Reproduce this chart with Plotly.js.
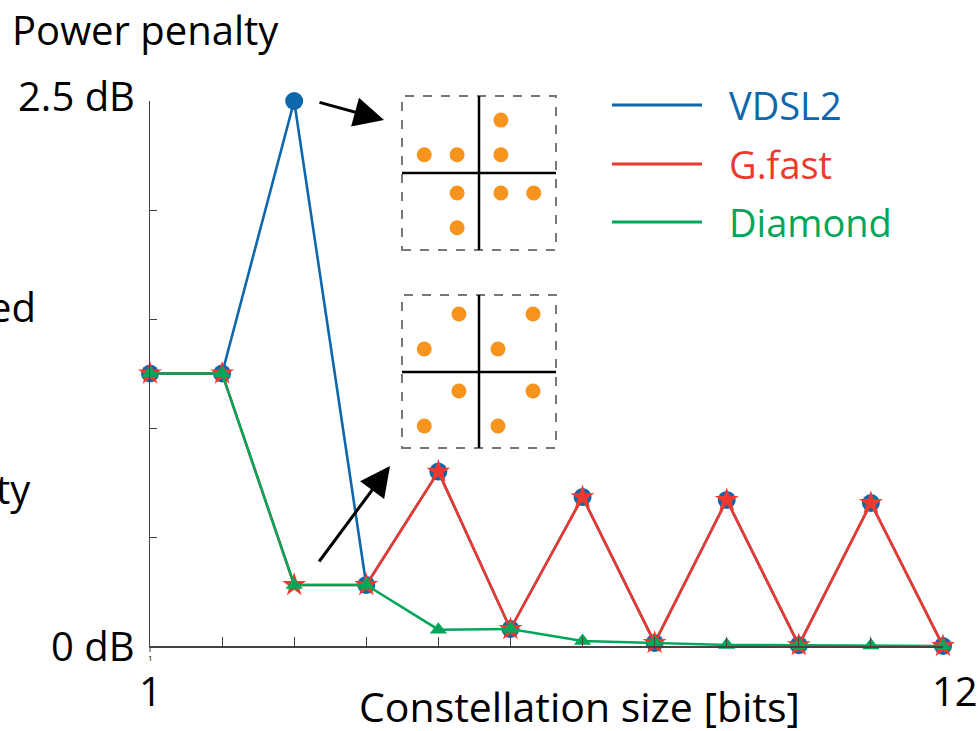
<!DOCTYPE html>
<html>
<head>
<meta charset="utf-8">
<script src="https://cdn.plot.ly/plotly-3.0.1.min.js"></script>
<style>html,body{margin:0;padding:0;background:#fff;}#chart{width:978px;height:731px;}</style>
</head>
<body>
<div id="chart"></div>
<script>
// ---- data ----
const bits = [1, 2, 3, 4, 5, 6, 7, 8, 9, 10, 11, 12];
const vdsl2 = [1.25, 1.25, 2.5, 0.28, 0.80, 0.078, 0.683, 0.014, 0.67, 0.004, 0.656, 0];
const gfast = [1.25, 1.25, 0.28, 0.28, 0.80, 0.078, 0.683, 0.014, 0.67, 0.004, 0.656, 0];
const diamond = [1.25, 1.25, 0.28, 0.28, 0.075, 0.078, 0.023, 0.014, 0.005, 0.004, 0.002, 0];
const seriesNames = ["VDSL2", "G.fast", "Diamond"];
const seriesColors = ["#0F67AB", "#EE3A2E", "#00A65A"];
const yTickVals = [0, 0.5, 1, 1.5, 2, 2.5];
const yTickLabels = ["0 dB", "2.5 dB"];
const xTickLabels = ["1", "12"];
// inset constellations (in-phase, quadrature)
const constA_I = [0.6, -1.5, -0.6, 0.6, -0.6, 0.6, 1.5, -0.6];
const constA_Q = [1.45, 0.5, 0.5, 0.5, -0.55, -0.55, -0.55, -1.5];
const constB_I = [-0.55, 1.48, -1.5, 0.52, -0.55, 1.48, -1.5, 0.52];
const constB_Q = [1.59, 1.59, 0.63, 0.63, -0.52, -0.52, -1.48, -1.48];

// ---- pixel helpers (plot area 150..943 x 101..646) ----
const L = 150, R = 943, T = 101, B = 646;
const px = p => (p - L) / (R - L);
const py = p => (B - p) / (B - T);
const FONT = "Open Sans";

const traces = [
  {x: bits, y: vdsl2, mode: "lines+markers", name: seriesNames[0], cliponaxis: false,
   line: {color: seriesColors[0], width: 2.6}, marker: {symbol: "circle", size: 18, color: seriesColors[0]}},
  {x: bits, y: gfast, mode: "lines+markers", name: seriesNames[1], cliponaxis: false,
   line: {color: seriesColors[1], width: 2.6}, marker: {symbol: "star", size: 18, color: seriesColors[1]}},
  {x: bits, y: diamond, mode: "lines+markers", name: seriesNames[2], cliponaxis: false,
   line: {color: seriesColors[2], width: 2.5}, marker: {symbol: "triangle-up", size: 15, color: seriesColors[2]}},
  {x: constA_I, y: constA_Q, xaxis: "x2", yaxis: "y2", mode: "markers", cliponaxis: false,
   marker: {size: 15, color: "#F7941D"}, hoverinfo: "skip"},
  {x: constB_I, y: constB_Q, xaxis: "x3", yaxis: "y3", mode: "markers", cliponaxis: false,
   marker: {size: 15, color: "#F7941D"}, hoverinfo: "skip"}
];

const shapes = [];
const annotations = [];

// inset boxes and crosshairs
function inset(x0, x1, y0, y1, cx, cy) {
  shapes.push({type: "rect", xref: "paper", yref: "paper", x0: px(x0), x1: px(x1), y0: py(y1), y1: py(y0),
    line: {color: "#777", width: 2, dash: "dash"}});
  shapes.push({type: "line", xref: "paper", yref: "paper", x0: px(cx), x1: px(cx), y0: py(y1), y1: py(y0),
    line: {color: "#000", width: 2.5}});
  shapes.push({type: "line", xref: "paper", yref: "paper", x0: px(x0), x1: px(x1), y0: py(cy), y1: py(cy),
    line: {color: "#000", width: 2.5}});
}
inset(402, 556, 96, 250, 479, 173);
inset(402, 556, 295, 448, 479, 372);

// legend
const legY = [105, 164, 222];
seriesNames.forEach((n, i) => {
  shapes.push({type: "line", xref: "paper", yref: "paper", x0: px(612), x1: px(702), y0: py(legY[i]), y1: py(legY[i]),
    line: {color: seriesColors[i], width: 3}});
  annotations.push({xref: "paper", yref: "paper", x: px(727), y: py(legY[i]), xanchor: "left", yanchor: "middle",
    text: n, showarrow: false, font: {family: FONT, size: 38, color: seriesColors[i]}});
});

// small tick below origin
shapes.push({type: "line", xref: "paper", yref: "paper", x0: 0, x1: 0, y0: py(646), y1: py(652), line: {color: "#444", width: 1}});

// texts
function txt(t, x, y, xa, size, extra) {
  annotations.push(Object.assign({xref: "paper", yref: "paper", x: px(x), y: py(y), xanchor: xa, yanchor: "middle",
    text: t, showarrow: false, font: {family: FONT, size: size, color: "#000"}}, extra || {}));
}
txt("Power penalty", 10, 29, "left", 40);
txt(yTickLabels[1], 137, 95, "right", 40);
txt(yTickLabels[0], 137, 645, "right", 40);
txt("ed", 38, 306, "right", 40);
txt("ty", 33, 488, "right", 40);
txt(xTickLabels[0], 150, 690, "center", 40);
txt(xTickLabels[1], 955, 690, "center", 40);
txt("1", 150, 657, "center", 8);
txt("Constellation size [bits]", 579, 706, "center", 41);

// arrows
annotations.push({xref: "paper", yref: "paper", x: px(384), y: py(120), ax: -66, ay: -18, text: "", showarrow: true,
  arrowhead: 2, arrowsize: 2.0, arrowwidth: 3, arrowcolor: "#000", standoff: 0});
annotations.push({xref: "paper", yref: "paper", x: px(390), y: py(466), ax: -72, ay: 97, text: "", showarrow: true,
  arrowhead: 2, arrowsize: 2.0, arrowwidth: 3, arrowcolor: "#000", standoff: 0});

const axInset = r => ({range: [-r, r], visible: false, fixedrange: true});
const layout = {
  width: 978, height: 731,
  margin: {l: L, r: 978 - R, t: T, b: 731 - B, pad: 0},
  paper_bgcolor: "#fff", plot_bgcolor: "#fff",
  showlegend: false,
  font: {family: FONT, color: "#000"},
  xaxis: {range: [1, 12], tickvals: bits, ticks: "inside", ticklen: 9, tickcolor: "#444", tickwidth: 1,
    showticklabels: false, showline: true, linecolor: "#444", linewidth: 1.5, showgrid: false, zeroline: false},
  yaxis: {range: [0, 2.5], tickvals: yTickVals, ticks: "inside", ticklen: 7, tickcolor: "#444", tickwidth: 1,
    showticklabels: false, showline: true, linecolor: "#444", linewidth: 1.5, showgrid: false, zeroline: false},
  xaxis2: Object.assign(axInset(1.918), {domain: [px(409), px(549)], anchor: "y2"}),
  yaxis2: Object.assign(axInset(1.918), {domain: [py(243), py(103)], anchor: "x2"}),
  xaxis3: Object.assign(axInset(1.918), {domain: [px(409), px(549)], anchor: "y3"}),
  yaxis3: Object.assign(axInset(1.918), {domain: [py(442), py(302)], anchor: "x3"}),
  shapes: shapes,
  annotations: annotations
};
Plotly.newPlot("chart", traces, layout, {staticPlot: true, displayModeBar: false});
</script>
</body>
</html>
